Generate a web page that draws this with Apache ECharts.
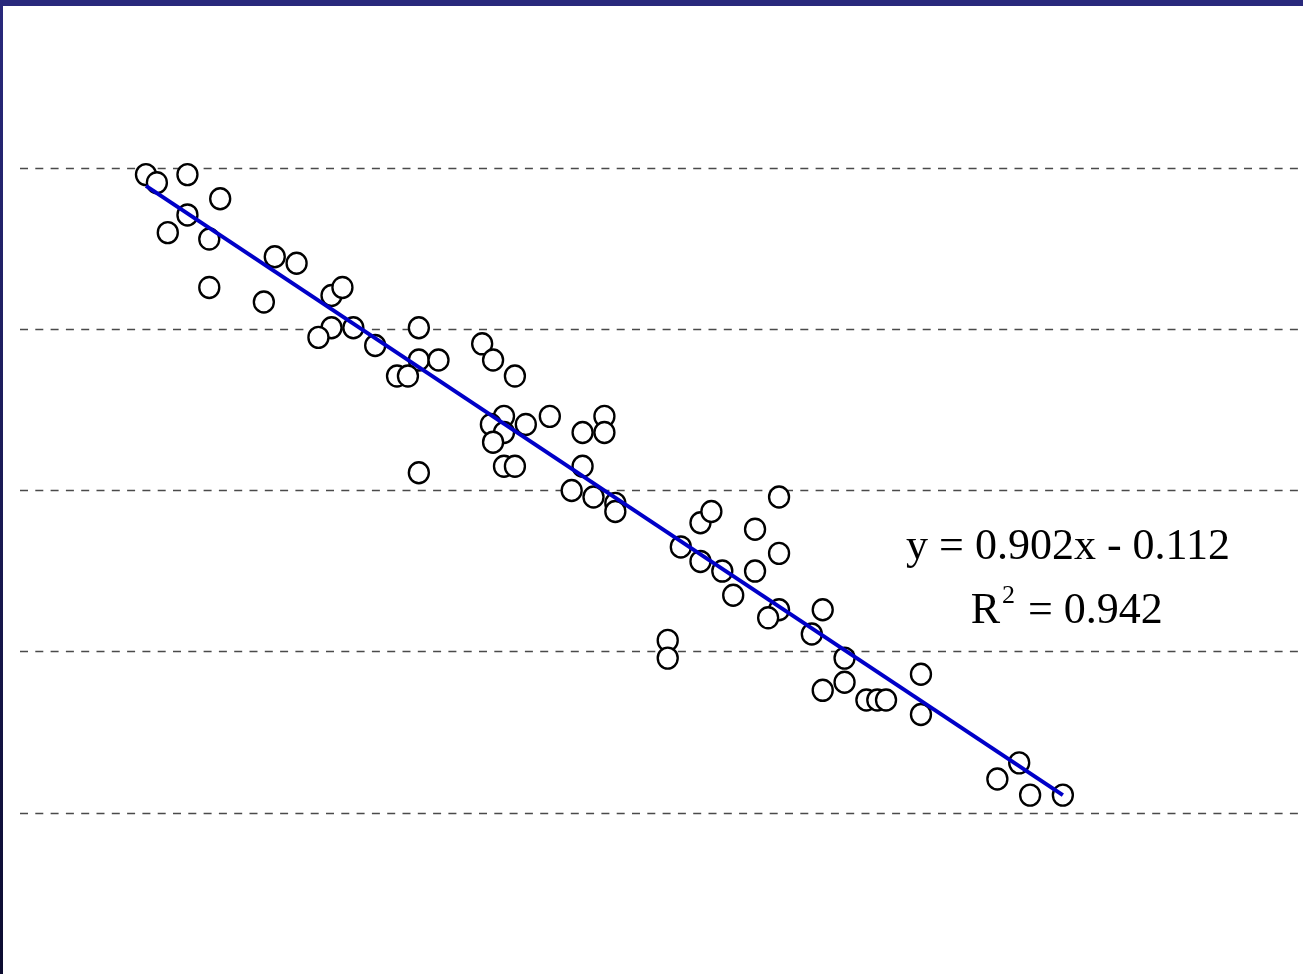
<!DOCTYPE html>
<html>
<head>
<meta charset="utf-8">
<script src="https://cdn.jsdelivr.net/npm/echarts@6/dist/echarts.min.js"></script>
<style>
  html, body { margin: 0; padding: 0; background: #ffffff; }
  #chart { width: 1303px; height: 974px; }
</style>
</head>
<body>
<div id="chart"></div>
<script>
// Observed points (x axis runs right to left)
const xValues = [
  5.55, 5.50, 5.36, 5.21, 5.36, 5.45, 5.26, 5.26, 4.96, 4.86,
  5.01, 4.70, 4.65, 4.70, 4.76, 4.60, 4.50, 4.30, 4.30, 4.21,
  4.40, 4.35, 4.30, 4.01, 3.96, 3.86, 3.91, 3.97, 3.91, 3.81,
  3.70, 3.55, 3.45, 3.45, 3.96, 3.91, 3.86, 3.55, 3.60, 3.50,
  3.40, 3.40, 3.10, 3.01, 2.96, 3.01, 2.91, 2.86, 2.76, 2.76,
  2.65, 2.65, 2.65, 2.70, 3.16, 3.16, 2.45, 2.50, 2.35, 2.35,
  2.45, 2.25, 2.20, 2.16, 2.00, 2.00, 1.65, 1.55, 1.50, 1.35
];
const yValues = [
  4.96, 4.91, 4.96, 4.81, 4.71, 4.60, 4.56, 4.26, 4.45, 4.41,
  4.17, 4.21, 4.26, 4.01, 3.95, 4.01, 3.90, 4.01, 3.81, 3.81,
  3.71, 3.71, 3.11, 3.91, 3.81, 3.71, 3.46, 3.41, 3.36, 3.41,
  3.46, 3.36, 3.46, 3.36, 3.30, 3.15, 3.15, 3.15, 3.00, 2.96,
  2.92, 2.87, 2.65, 2.80, 2.87, 2.56, 2.50, 2.35, 2.76, 2.50,
  2.96, 2.61, 2.26, 2.21, 2.07, 1.96, 2.26, 2.11, 1.96, 1.81,
  1.76, 1.70, 1.70, 1.70, 1.86, 1.61, 1.21, 1.31, 1.11, 1.11
];

// Trend line ends
const trendX = [5.55, 1.35];
const trendY = [4.89, 1.11];

const equationText = "y = 0.902x - 0.112";
const rSquaredText = "= 0.942";

let points = [];
for (let i = 0; i < xValues.length; i++) {
  points.push([xValues[i], yValues[i]]);
}
let trend = [];
for (let i = 0; i < trendX.length; i++) {
  trend.push([trendX[i], trendY[i]]);
}

const serif = "'Liberation Serif', 'DejaVu Serif', serif";

let chart = echarts.init(document.getElementById("chart"));

let option = {
  animation: false,
  backgroundColor: "#ffffff",
  grid: { left: 20, right: 0, top: 7, bottom: 0, containLabel: false },
  xAxis: {
    type: "value",
    inverse: true,
    min: 0.25,
    max: 6.127,
    axisLine: { show: false },
    axisTick: { show: false },
    axisLabel: { show: false },
    splitLine: { show: false },
  },
  yAxis: {
    type: "value",
    min: 0,
    max: 6,
    interval: 1,
    axisLine: { show: false },
    axisTick: { show: false },
    axisLabel: { show: false },
    splitLine: {
      show: true,
      showMinLine: false,
      showMaxLine: false,
      lineStyle: { color: "#4a4a4a", width: 1.4, type: [8, 7.3] },
    },
  },
  series: [
    {
      type: "scatter",
      data: points,
      symbol: "circle",
      symbolSize: [20, 21],
      itemStyle: { color: "#ffffff", borderColor: "#000000", borderWidth: 2.4, opacity: 1 },
      z: 2,
    },
    {
      type: "line",
      data: trend,
      symbol: "none",
      lineStyle: { color: "#0000c8", width: 4 },
      z: 3,
    },
  ],
  graphic: [
    // frame bars
    { type: "rect", left: 0, top: 0, shape: { width: 1303, height: 6 }, style: { fill: "#29297c" }, z: 10 },
    {
      type: "rect", left: 0, top: 0, shape: { width: 3, height: 974 },
      style: {
        fill: new echarts.graphic.LinearGradient(0, 0, 0, 1, [
          { offset: 0, color: "#29297c" },
          { offset: 1, color: "#0c0c30" },
        ]),
      },
      z: 10,
    },
    // regression text
    {
      type: "text", x: 1068, y: 547, z: 10,
      style: { text: equationText, font: "44px " + serif, fill: "#000000", textAlign: "center", textVerticalAlign: "middle" },
    },
    {
      type: "text", x: 1000, y: 611, z: 10,
      style: { text: "R", font: "44px " + serif, fill: "#000000", textAlign: "right", textVerticalAlign: "middle" },
    },
    {
      type: "text", x: 1002, y: 596, z: 10,
      style: { text: "2", font: "26px " + serif, fill: "#000000", textAlign: "left", textVerticalAlign: "middle" },
    },
    {
      type: "text", x: 1028, y: 611, z: 10,
      style: { text: rSquaredText, font: "44px " + serif, fill: "#000000", textAlign: "left", textVerticalAlign: "middle" },
    },
  ],
};

chart.setOption(option);
</script>
</body>
</html>
